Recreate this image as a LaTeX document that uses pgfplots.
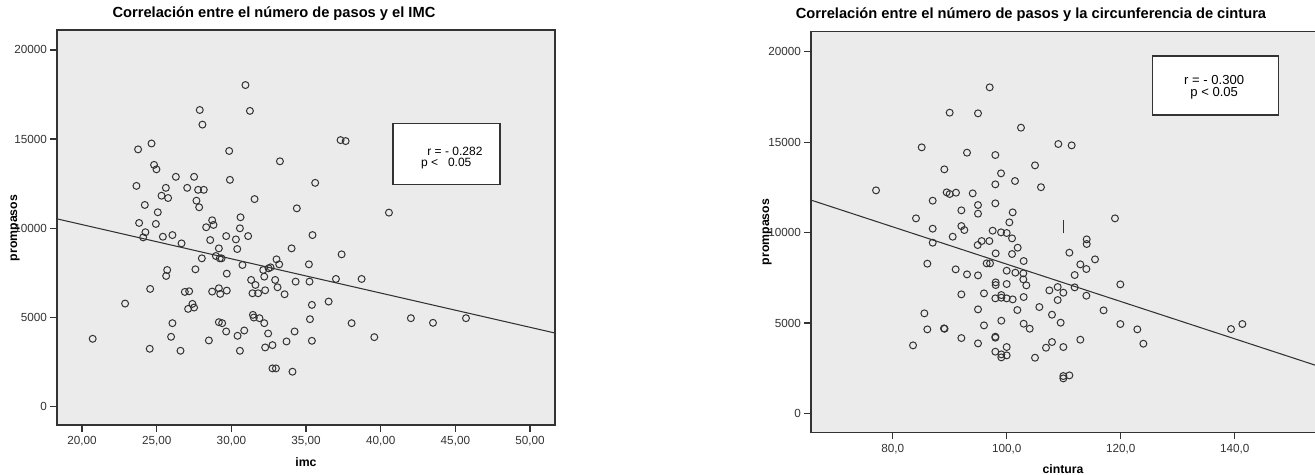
\documentclass[border=0pt]{standalone}
\usepackage{pgfplots}
\usepackage{pgfplotstable}
\pgfplotsset{compat=1.18}
\usepackage{fontspec}
\setmainfont{Liberation Sans}
\definecolor{bgpanel}{HTML}{EBEBEB}
\definecolor{ink}{HTML}{333333}

% imc vs prompasos
\pgfplotstableread{
x y
20.71 3788
22.88 5766
23.64 12370
23.75 14420
23.82 10290
24.09 9480
24.20 11300
24.24 9770
24.53 3228
24.56 6587
24.65 14750
24.82 13550
24.94 10235
24.98 13300
25.07 10890
25.32 11820
25.41 9517
25.61 12260
25.63 7315
25.70 7651
25.76 11690
25.96 3900
26.05 9610
26.05 4665
26.28 12880
26.59 3116
26.66 9143
26.88 6419
27.04 12260
27.10 5467
27.17 6456
27.39 5747
27.50 12880
27.50 5542
27.59 7688
27.66 11540
27.77 12150
27.84 11170
27.88 16630
28.02 8304
28.06 15810
28.15 12150
28.31 10050
28.49 3695
28.58 9330
28.71 10440
28.71 6438
28.80 10180
28.96 8434
29.16 8864
29.16 6624
29.16 4721
29.22 8304
29.25 6307
29.34 8304
29.38 4665
29.65 9554
29.65 4198
29.69 7445
29.69 6494
29.85 14330
29.90 12710
30.30 9367
30.39 8826
30.41 3956
30.57 9990
30.57 3116
30.61 10610
30.74 7930
30.86 4254
30.94 18030
31.12 9554
31.24 16580
31.32 7091
31.41 6344
31.44 5131
31.50 4982
31.55 11630
31.61 6811
31.79 6344
31.88 4945
32.13 7651
32.20 7277
32.20 4665
32.26 6512
32.26 3303
32.46 4086
32.49 7744
32.62 7800
32.75 3433
32.75 2127
32.93 7091
32.98 2127
33.02 8248
33.09 6680
33.20 7968
33.25 13750
33.56 6288
33.69 3639
34.03 8864
34.09 1941
34.23 4198
34.30 6998
34.38 11110
35.19 7968
35.23 6998
35.26 4889
35.39 5691
35.39 3676
35.43 9610
35.61 12540
36.51 5878
37.00 7147
37.31 14940
37.38 8528
37.65 14885
38.05 4665
38.72 7147
39.57 3881
40.55 10870
42.02 4945
43.50 4684
45.71 4945
}\imcdata

% cintura vs prompasos
\pgfplotstableread{
x y
77.08 12336
83.57 3762
84.09 10787
85.09 14715
85.56 5532
86.08 8280
86.08 4647
87.02 11765
87.02 10216
87.02 9441
89.00 4702
89.10 4680
89.06 13498
89.47 12226
90.00 16633
90.00 12134
90.53 9773
91.05 7966
91.11 12207
92.05 11230
92.05 10363
92.05 6583
92.05 4167
92.57 10142
93.04 14420
93.04 7689
94.04 12170
94.91 9312
94.97 16596
94.97 11525
94.97 11046
94.97 7634
94.97 5753
94.97 3872
95.61 9533
96.02 6638
96.02 4868
96.49 8298
96.96 9533
97.02 18034
97.08 8298
97.54 10105
98.01 14291
98.01 12668
98.01 11617
98.01 6362
98.01 4241
98.01 4186
98.01 3411
98.07 8851
98.07 7247
98.07 7099
99.01 13277
99.01 10013
99.06 6546
99.06 6399
99.06 5126
99.06 3264
99.06 3098
100.00 9976
100.00 7892
100.00 7155
100.00 6362
100.00 3670
100.00 3209
100.47 10566
100.94 9681
100.94 8814
101.05 11119
101.05 6306
101.46 12853
101.52 7782
101.87 5716
101.93 9165
102.51 15803
102.92 7745
102.92 7413
102.98 8427
102.98 6436
102.98 4960
103.45 7081
104.04 4684
104.97 13719
104.97 3079
105.73 5882
106.02 12510
106.90 3633
107.49 6804
107.95 5458
107.95 3946
108.95 6989
108.95 6270
109.06 14899
109.47 5016
109.94 6675
109.94 3670
109.94 2065
109.94 1936
111.00 8888
111.00 2102
111.40 14825
111.93 7653
111.93 6970
112.92 8243
112.92 4075
113.98 7985
113.98 6509
114.04 9626
114.04 9368
115.50 8519
117.00 5698
119.00 10787
119.94 7136
119.94 4942
122.92 4647
123.98 3854
139.36 4665
141.35 4942
}\cinturadata

\pgfplotsset{spss/.style={
  scale only axis,
  axis background/.style={fill=bgpanel},
  axis line style={ink, line width=1.1pt},
  tick style={ink, line width=0.9pt},
  tick align=outside,
  major tick length=5pt,
  tick pos=left,
  scaled ticks=false,
  ytick={0,5000,10000,15000,20000},
  yticklabels={0,5000,10000,15000,20000},
  ticklabel style={font=\fontsize{8.8}{10}\selectfont, text=black!80},
  yticklabel style={xshift=1pt},
},
pts/.style={only marks, mark=o, mark size=2.6pt,
  mark options={draw=ink, line width=0.75pt}},
fit/.style={ink, line width=0.8pt, no marks}}

\begin{document}
\begin{tikzpicture}
\begin{axis}[spss,
  at={(42.75pt,37.5pt)}, anchor=south west,
  width=373.5pt, height=296.25pt,
  xmin=18.32, xmax=51.67, ymin=-1050, ymax=21120,
  xtick={20,25,30,35,40,45,50},
  xticklabels={{20,00},{25,00},{30,00},{35,00},{40,00},{45,00},{50,00}},
]
\addplot[pts] table {\imcdata};
\addplot[fit] coordinates {(18.32,10520) (51.67,4112)};
\draw[ink, line width=0.9pt, fill=white] (axis cs:40.82,12441) rectangle (axis cs:47.99,15857);
\node[anchor=east, inner sep=0pt, font=\fontsize{9}{10}\selectfont] at (axis cs:46.83,14298) {r = - 0.282};
\node[anchor=east, inner sep=0pt, font=\fontsize{9}{10}\selectfont] at (axis cs:46.09,13644) {p <\ \ \ 0.05};
\end{axis}

\begin{axis}[spss,
  at={(608.25pt,31.7pt)}, anchor=south west,
  width=382pt, height=300.75pt,
  xmin=65.67, xmax=155.03, ymin=-1070, ymax=21110,
  xtick={80,100,120,140},
  xticklabels={{80,0},{100,0},{120,0},{140,0}},
]
\addplot[pts] table {\cinturadata};
\addplot[fit] coordinates {(65.67,11798) (155.03,2574)};
\draw[ink, line width=0.9pt] (axis cs:109.93,9956) -- (axis cs:109.93,10692);
\draw[ink, line width=0.9pt, fill=white] (axis cs:125.6,16499) rectangle (axis cs:147.65,19763);
\node[inner sep=0pt, align=center, font=\fontsize{9.8}{9.4}\selectfont] at (axis cs:136.4,18044) {r = - 0.300\\p < 0.05};
\end{axis}

\node[font=\fontsize{11}{13}\selectfont\bfseries] at (205.5pt,345.75pt) {Correlación entre el número de pasos y el IMC};
\node[font=\fontsize{11}{13}\selectfont\bfseries] at (773.25pt,345pt) {Correlación entre el número de pasos y la circunferencia de cintura};
\node[font=\fontsize{9.2}{11}\selectfont\bfseries, rotate=90] at (11.25pt,185.25pt) {prompasos};
\node[font=\fontsize{9.2}{11}\selectfont\bfseries, rotate=90] at (575.25pt,182.25pt) {prompasos};
\node[font=\fontsize{9.2}{11}\selectfont\bfseries] at (229.5pt,9.75pt) {imc};
\node[font=\fontsize{9.2}{11}\selectfont\bfseries] at (797.25pt,4.5pt) {cintura};

\pgfresetboundingbox
\path[use as bounding box] (0pt,0pt) rectangle (986.25pt,356.25pt);
\end{tikzpicture}
\end{document}
